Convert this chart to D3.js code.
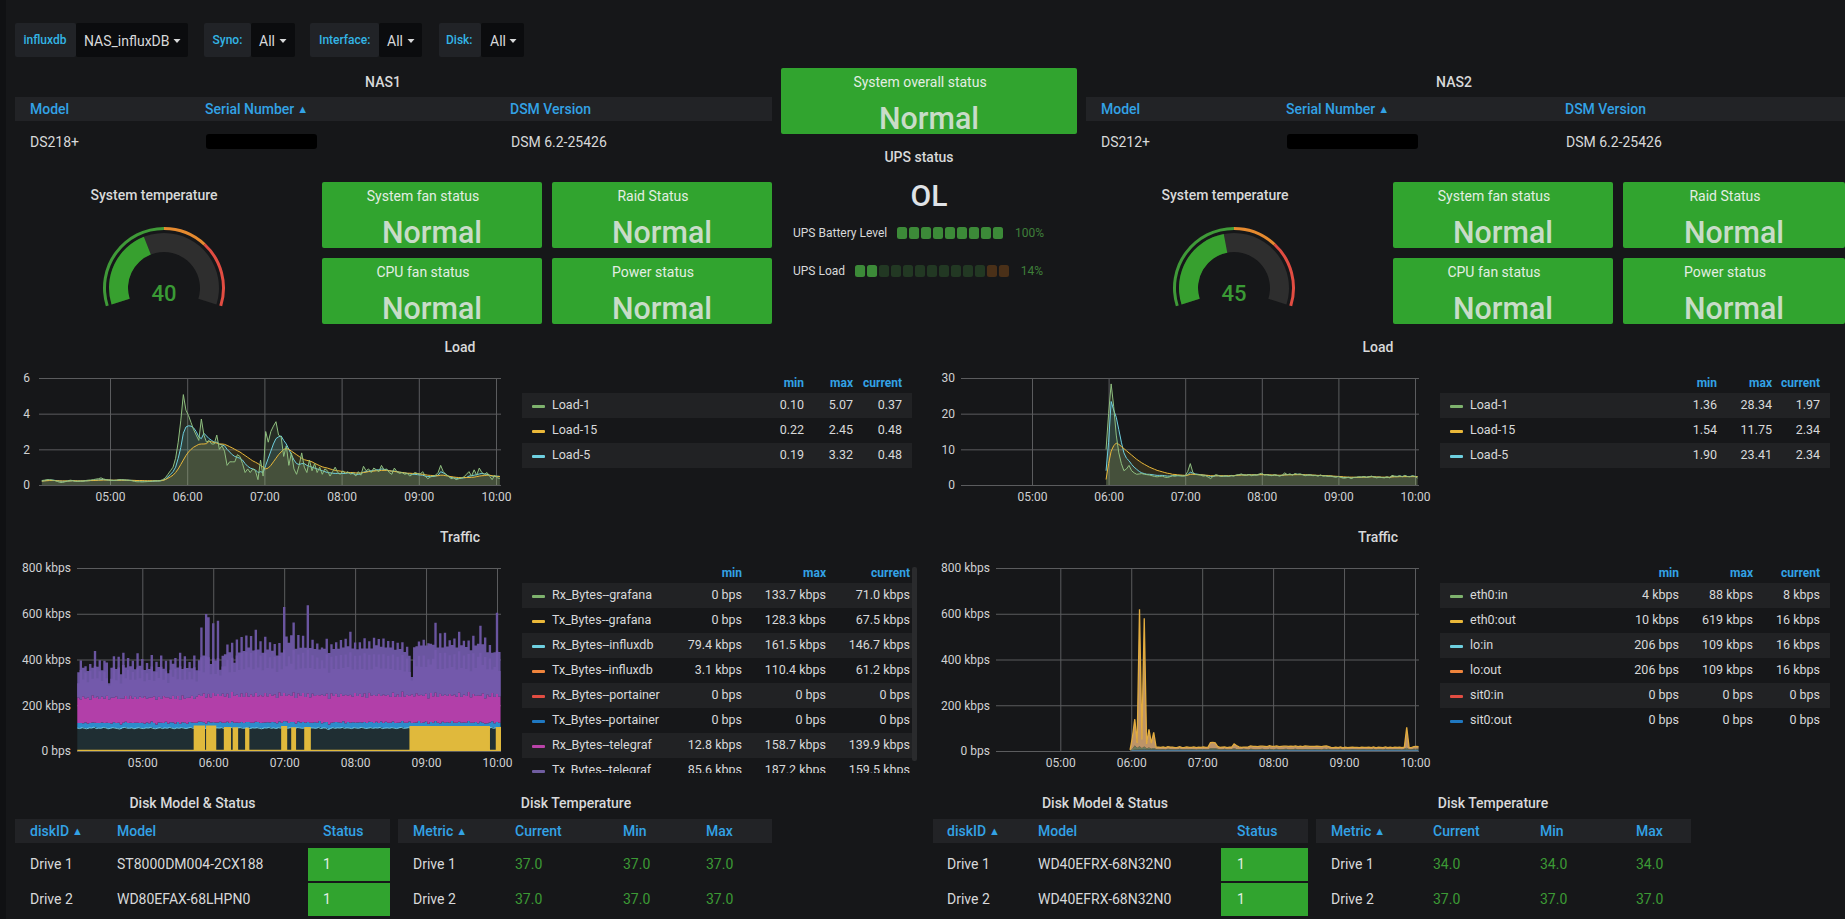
<!DOCTYPE html>
<html><head><meta charset="utf-8">
<script src="https://cdnjs.cloudflare.com/ajax/libs/d3/7.8.5/d3.min.js"></script>
<style>
html,body{margin:0;padding:0;background:#161719;overflow:hidden}
svg{display:block;font-family:Roboto,sans-serif}
.axis .domain{display:none}
.axis line{stroke:#5b5c5e;stroke-width:1}
.axis text{fill:#d0d1d3;font-size:12px;font-family:Roboto,sans-serif}
</style></head><body>
<svg id="c" width="1845" height="919"></svg>
<script>
// ---------- variables & tables ----------
const varNames=["influxdb","Syno:","Interface:","Disk:"];
const varValues=["NAS_influxDB","All","All","All"];
const statHeaders=["Model","Serial Number","DSM Version"];
const nas1Info=["DS218+","DSM 6.2-25426"];
const nas2Info=["DS212+","DSM 6.2-25426"];
const statusTitles=["System fan status","Raid Status","CPU fan status","Power status"];
const statusValue="Normal";
const tempNas=[40,45];
const gaugeLimits=[0,50,70,100];
const gaugeColors=["#37872d","#e58a2f","#e24d42"];
const upsBatteryLit=9, upsBatteryCells=9, upsBatteryPct="100%";
const upsLoadLit=2, upsLoadCells=13, upsLoadWarnCells=2, upsLoadPct="14%";

const diskHeaders=["diskID","Model","Status"];
const tempHeaders=["Metric","Current","Min","Max"];
const drives=["Drive 1","Drive 2"];
const nas1Models=["ST8000DM004-2CX188","WD80EFAX-68LHPN0"];
const nas2Models=["WD40EFRX-68N32N0","WD40EFRX-68N32N0"];
const driveStatus=["1","1"];
const nas1Temps=[["37.0","37.0","37.0"],["37.0","37.0","37.0"]];
const nas2Temps=[["34.0","34.0","34.0"],["37.0","37.0","37.0"]];

// ---------- legends ----------
const loadNames=["Load-1","Load-15","Load-5"];
const loadColors=["#7eb26d","#eab839","#6ed0e0"];
const load1Stats=[["0.10","5.07","0.37"],["0.22","2.45","0.48"],["0.19","3.32","0.48"]];
const load2Stats=[["1.36","28.34","1.97"],["1.54","11.75","2.34"],["1.90","23.41","2.34"]];
const traf1Names=["Rx_Bytes--grafana","Tx_Bytes--grafana","Rx_Bytes--influxdb","Tx_Bytes--influxdb","Rx_Bytes--portainer","Tx_Bytes--portainer","Rx_Bytes--telegraf","Tx_Bytes--telegraf"];
const traf1Colors=["#7eb26d","#eab839","#6ed0e0","#ef843c","#e24d42","#1f78c1","#ba43a9","#705da0"];
const traf1Stats=[["0 bps","133.7 kbps","71.0 kbps"],["0 bps","128.3 kbps","67.5 kbps"],["79.4 kbps","161.5 kbps","146.7 kbps"],["3.1 kbps","110.4 kbps","61.2 kbps"],["0 bps","0 bps","0 bps"],["0 bps","0 bps","0 bps"],["12.8 kbps","158.7 kbps","139.9 kbps"],["85.6 kbps","187.2 kbps","159.5 kbps"]];
const traf2Names=["eth0:in","eth0:out","lo:in","lo:out","sit0:in","sit0:out"];
const traf2Colors=["#7eb26d","#eab839","#6ed0e0","#ef843c","#e24d42","#1f78c1"];
const traf2Stats=[["4 kbps","88 kbps","8 kbps"],["10 kbps","619 kbps","16 kbps"],["206 bps","109 kbps","16 kbps"],["206 bps","109 kbps","16 kbps"],["0 bps","0 bps","0 bps"],["0 bps","0 bps","0 bps"]];
const legendHeaders=["min","max","current"];

// ---------- NAS1 load (2-minute samples from 04:07) ----------
const load1A=[.25,.27,.3,.3,.28,.25,.2,.15,.14,.18,.22,.27,.25,.2,.2,.22,.22,.25,.27,.28,.3,.33,.35,.4,.34,.3,
.28,.26,.25,.27,.3,.3,.28,.27,.26,.24,.2,.18,.18,.17,.18,.19,.2,.22,.24,.24,.25,
.3,.4,.6,.8,1.0,1.5,2.4,3.6,
5.07,4.2,3.9,3.5,3.1,2.8,2.5,3.7,2.8,2.4,
2.5,2.3,2.3,2.8,2.0,2.2,1.9,1.1,1.3,1.3,
1.3,1.7,1.6,1.2,.7,.9,.7,.9,.8,.3,
1.4,.5,3.0,2.4,3.0,3.3,3.55,2.8,2.7,1.6,
2.2,1.1,1.8,.9,.6,1.1,1.8,1.0,.7,1.4,
.8,1.2,.7,1.0,.6,.9,.8,.5,.75,1.0,
.7,.6,.8,.65,.75,.6,.7,.5,.75,.55,
1.05,.8,.9,.7,.95,.85,.75,1.1,.85,.9,
.7,.6,.95,.75,.65,.7,.6,.65,.5,.6,
.7,.65,.6,.75,.5,.35,.45,.5,.55,.7,
1.1,.75,.6,.5,.35,.4,.3,.35,.4,.45,
.6,.75,.5,.85,.55,.95,.7,.6,.7,.5,
.3,.55,.4,.37];
const load5A=[.22,.24,.26,.27,.27,.26,.24,.22,.21,.21,.22,.23,.24,.23,.22,.22,.22,.23,.24,.25,.26,.27,.28,.3,.3,.29,
.28,.27,.26,.26,.27,.28,.28,.27,.27,.26,.25,.24,.23,.22,.22,.21,.21,.21,.22,.22,.23,
.26,.32,.45,.6,.75,1.0,1.5,2.1,
2.9,3.25,3.32,3.3,3.2,3.0,2.7,2.6,2.9,2.75,
2.6,2.5,2.4,2.4,2.3,2.25,2.2,2.0,1.85,1.7,
1.6,1.55,1.5,1.4,1.2,1.05,.95,.9,.85,.7,
.75,.7,1.1,1.5,1.9,2.3,2.6,2.7,2.75,2.5,
2.3,2.0,1.7,1.4,1.2,1.15,1.2,1.2,1.1,1.05,
1.0,.95,.9,.85,.8,.75,.7,.68,.66,.65,
.65,.65,.65,.65,.68,.66,.63,.6,.6,.62,
.72,.75,.78,.8,.82,.85,.85,.9,.88,.85,
.8,.78,.78,.75,.72,.7,.68,.65,.62,.6,
.6,.58,.56,.55,.5,.47,.47,.48,.5,.55,
.75,.68,.6,.5,.42,.4,.38,.36,.38,.4,
.42,.5,.52,.55,.58,.62,.65,.62,.6,.55,
.5,.48,.5,.48];
const load15A=[.22,.23,.24,.25,.25,.25,.24,.23,.23,.23,.23,.23,.24,.24,.23,.23,.23,.24,.24,.25,.25,.26,.27,.27,.28,.28,
.28,.27,.27,.27,.27,.27,.27,.27,.26,.26,.26,.25,.25,.25,.24,.24,.24,.24,.24,.24,.24,
.26,.3,.38,.46,.55,.7,.9,1.15,
1.4,1.65,1.85,2.0,2.12,2.2,2.28,2.3,2.3,2.32,
2.45,2.42,2.38,2.35,2.3,2.3,2.28,2.22,2.15,2.08,
2.0,1.92,1.85,1.75,1.65,1.55,1.45,1.35,1.28,1.2,
1.1,1.0,.9,.95,1.1,1.3,1.5,1.7,1.85,2.0,
2.05,2.0,1.9,1.8,1.7,1.6,1.5,1.42,1.38,1.35,
1.3,1.22,1.15,1.08,1.02,.98,.95,.9,.86,.82,
.8,.78,.75,.72,.7,.7,.7,.68,.67,.68,
.7,.72,.75,.76,.78,.8,.8,.82,.82,.82,
.8,.78,.76,.74,.72,.7,.68,.66,.66,.65,
.65,.64,.62,.6,.58,.55,.54,.53,.52,.52,
.55,.55,.52,.5,.47,.45,.43,.42,.41,.42,
.42,.42,.43,.44,.47,.5,.52,.53,.55,.55,
.52,.5,.48,.48];

// ---------- NAS2 load (2-minute samples from 05:58) ----------
const load1B=[10,20,28.34,22,14,9,6,4,4.5,5.5,
4,3.4,3.0,3.1,3.2,3.0,2.9,2.8,2.6,2.4,
2.3,2.4,2.5,2.2,2.1,2.3,2.6,2.5,2.7,2.6,
2.5,2.6,3.8,6.0,3.5,3.0,2.9,2.8,2.5,2.6,
2.2,1.8,2.5,2.9,2.7,2.4,2.5,2.6,2.4,2.7,
2.5,2.8,2.9,3.1,2.8,2.7,3.0,2.6,2.9,2.8,
3.1,3.3,2.8,2.9,2.7,2.6,2.9,2.7,2.5,2.8,
3.4,2.9,3.1,2.8,3.2,3.0,3.1,2.9,2.6,2.8,
2.9,2.6,2.7,2.5,2.8,2.5,2.6,2.4,2.5,2.3,
2.2,2.4,2.1,1.9,2.0,2.2,1.8,2.1,2.2,2.3,
2.2,2.4,2.1,2.3,2.5,2.2,2.0,2.2,2.1,2.0,
2.3,2.0,2.7,2.5,2.4,2.6,2.3,2.7,2.4,2.3,
2.6,2.4,1.97];
const load5B=[4,12,23.41,21,19,15.5,12,9,7.5,6.8,
5.8,5,4.4,3.8,3.4,3.2,3,3,2.9,2.8,
2.7,2.7,2.7,2.6,2.5,2.5,2.6,2.6,2.6,2.6,
2.6,2.6,2.9,3.6,3.3,3.1,3,2.9,2.8,2.7,
2.6,2.4,2.4,2.6,2.6,2.5,2.5,2.5,2.5,2.6,
2.6,2.7,2.8,2.9,2.8,2.8,2.9,2.8,2.8,2.8,
2.9,3,2.9,2.9,2.8,2.7,2.8,2.7,2.6,2.7,
2.9,2.9,3,2.9,3,3,3,2.9,2.8,2.8,
2.8,2.7,2.7,2.6,2.7,2.6,2.6,2.5,2.5,2.4,
2.3,2.4,2.3,2.1,2.1,2.1,2,2.1,2.1,2.2,
2.2,2.3,2.2,2.3,2.4,2.3,2.2,2.2,2.1,2.1,
2.2,2.1,2.4,2.4,2.4,2.5,2.4,2.5,2.4,2.4,
2.5,2.4,2.34];
const load15B=[1.54,6,9.5,11,11.75,11.4,10.8,10.2,9.6,9,
8.4,7.8,7.2,6.7,6.2,5.8,5.4,5,4.7,4.4,
4.1,3.9,3.7,3.5,3.3,3.2,3,2.95,2.85,2.8,
2.75,2.7,2.75,3,3,2.95,2.9,2.85,2.8,2.75,
2.7,2.6,2.6,2.6,2.6,2.6,2.6,2.6,2.6,2.6,
2.65,2.7,2.75,2.8,2.8,2.8,2.85,2.85,2.85,2.85,
2.9,2.9,2.9,2.9,2.85,2.8,2.8,2.75,2.75,2.75,
2.8,2.85,2.85,2.85,2.9,2.9,2.9,2.9,2.85,2.85,
2.8,2.8,2.75,2.7,2.7,2.65,2.6,2.6,2.55,2.5,
2.45,2.4,2.35,2.3,2.25,2.2,2.2,2.2,2.15,2.15,
2.2,2.2,2.2,2.25,2.3,2.3,2.25,2.25,2.2,2.2,
2.2,2.2,2.25,2.3,2.3,2.35,2.35,2.35,2.35,2.35,
2.35,2.35,2.34];

// ---------- NAS1 traffic, kbps, stacked (2-minute samples from 04:05) ----------
const rxInfluxA=[100,98,102,99,97,101,100,104,98,100,99,103,101,97,99,102,100,98,96,101,
103,100,99,101,97,100,102,99,98,101,100,103,99,97,100,102,98,101,99,103,
100,97,101,99,102,100,98,101,103,99,100,101,104,100,98,102,100,103,99,101,
100,102,98,101,99,103,100,97,101,102,99,100,103,98,101,100,102,99,97,101,
100,103,99,101,98,102,100,104,101,99,102,100,98,103,101,99,100,102,97,101,
100,99,103,98,101,100,94,98,102,99,101,100,103,99,101,100,98,102,100,99,
103,101,98,100,102,99,101,100,103,98,100,101,99,102,100,98,101,103,99,100,
102,100,98,101,103,99,100,102,97,101,100,103,99,98,101,102,100,99,103,100,
98,101,102,99,100,103,98,101,100,99,102,100,92,98,100,103,99,101,100,104];
const txInfluxA=[22,24,19,26,23,21,25,20,24,22,26,19,23,25,21,24,22,26,20,23,
25,22,24,21,26,23,20,25,22,24,21,26,23,19,25,22,24,27,21,23,
25,22,26,20,24,23,21,26,22,25,23,28,24,26,22,27,25,23,26,24,
28,22,25,27,23,26,24,28,22,25,23,27,24,26,22,28,25,23,27,24,
26,22,28,25,23,27,24,26,29,23,25,27,22,26,24,28,23,25,27,22,
26,24,28,23,25,27,22,26,24,28,25,23,27,22,26,24,28,23,25,27,
22,26,24,28,25,23,27,22,26,24,28,23,25,27,22,26,24,28,25,23,
27,22,26,24,28,23,25,27,22,26,24,28,25,23,27,22,26,24,28,23,
25,27,22,26,24,28,25,23,27,22,26,24,28,23,25,27,22,26,24,30];
const rxTelegrafA=[112,104,118,106,115,103,119,108,116,105,113,107,118,104,114,108,117,103,115,106,
112,105,118,107,114,104,116,108,119,105,113,106,117,109,112,104,118,107,115,103,
116,108,113,105,118,106,114,107,117,104,115,118,112,126,114,121,110,128,116,124,
112,127,115,123,110,129,117,122,113,126,115,128,111,124,116,127,112,123,115,129,
113,125,116,122,112,128,117,124,111,126,114,130,112,123,116,127,113,125,111,128,
115,122,113,126,116,124,112,128,115,123,111,127,113,125,116,122,112,129,115,124,
113,126,111,127,116,123,114,128,112,125,115,122,113,127,116,124,111,129,114,123,
112,126,115,128,113,124,116,122,112,127,115,125,113,129,114,123,116,126,112,124,
115,128,113,122,116,127,112,125,114,123,115,128,111,126,113,124,116,122,114,127];
const txTelegrafA=[110,170,125,140,115,155,120,205,130,170,115,165,145,70,130,180,120,185,105,200,
125,180,130,165,120,200,135,170,115,155,125,185,110,165,130,190,120,160,105,170,
140,180,125,205,115,185,130,155,120,190,115,150,300,165,365,335,145,305,155,320,115,
165,185,215,200,215,145,240,195,245,200,
250,215,255,200,275,205,235,190,245,205,
225,195,220,185,215,190,375,260,225,265,
305,215,255,210,250,215,385,215,235,205,
225,200,205,205,240,200,215,205,225,210,
235,210,245,215,275,210,220,205,225,210,
240,215,225,205,250,220,240,215,245,210,
235,215,225,205,225,210,215,195,210,175,75,
215,205,235,215,245,210,240,215,225,
305,215,265,210,270,215,235,220,245,215,
265,225,235,215,225,205,255,220,225,305,
215,265,185,225,175,195,355,195,390];
// troughs of the comb inside the purple band
const txTelegrafLowA=[62,128,74,112,66,126,72,140,80,122,68,118,76,60,82,132,70,138,64,146,
78,128,70,116,74,138,80,124,66,110,76,134,68,120,82,140,72,114,62,126,
84,132,74,146,68,136,80,112,72,138,66,104,170,92,180,160,100,150,96,158,90,
118,132,148,112,150,104,170,118,176,120,
178,128,180,118,186,126,172,114,176,124,
160,118,164,112,158,116,190,130,166,140,
186,124,170,120,176,126,192,128,168,118,
164,116,150,120,172,114,160,118,166,122,
170,120,176,124,186,118,162,116,168,120,
174,122,166,114,178,126,172,120,176,118,
170,122,166,116,164,118,160,110,158,104,60,
160,118,172,122,176,116,170,124,164,
186,122,178,116,182,120,170,124,176,118,
180,126,170,118,166,114,178,122,168,186,
124,180,110,166,102,130,190,112,200];
// yellow blocks of Tx_Bytes--grafana
const txGrafanaStarts=["05:44:30","05:55:00","06:10:00","06:17:30","06:28:00","06:58:30","07:07:00","07:18:00","08:47:00","10:00:00"];
const txGrafanaEnds=["05:52:00","06:01:30","06:14:00","06:20:00","06:29:30","07:01:30","07:09:00","07:21:30","09:53:00","10:03:30"];
const txGrafanaKbps=[106,106,100,98,96,104,98,100,104,100];

// ---------- NAS2 traffic, kbps, stacked (2-minute samples from 05:59) ----------
const loInB=[1,4,6,5,7,6,8,6,7,6,7,6,5,6,6,5,7,6,6,5,
6,7,5,6,6,5,7,6,5,6,6,7,5,6,7,6,7,6,5,6,
7,5,6,6,7,5,6,6,7,6,5,7,6,6,5,6,7,6,5,7,
6,6,7,5,6,6,7,6,5,6,7,6,6,5,7,6,6,5,7,6,
6,5,7,6,7,6,5,6,6,7,5,6,6,5,7,6,5,6,6,7,
5,6,6,7,5,6,6,5,7,6,6,5,7,6,6,5,7,6,5,6,
7,6,7];
const eth0InB=[1,6,18,8,14,6,12,5,8,4,6,3,3,2,3,2,3,3,2,3,
2,3,3,2,3,3,2,3,2,3,3,2,3,2,5,6,5,4,3,2,
3,3,2,3,5,4,3,2,3,3,2,3,3,2,3,3,3,2,3,3,
2,3,3,3,2,3,3,2,3,3,3,2,3,3,2,3,3,3,2,3,
3,2,3,3,3,2,3,3,2,3,2,3,2,3,2,3,3,2,3,2,
3,3,2,3,2,3,3,2,3,2,3,3,2,3,3,2,3,8,3,2,
3,4,3];
const eth0OutB=[3,50,115,22,599,38,560,20,80,24,68,9,9,8,9,8,9,8,9,7,
8,9,7,8,9,8,7,9,8,8,7,9,8,9,25,26,24,10,8,9,
8,7,9,8,19,15,9,8,7,8,11,12,11,12,11,12,11,12,11,13,
12,11,12,11,12,12,11,12,13,11,12,11,12,11,13,12,11,12,11,12,
11,12,11,13,9,8,7,8,7,8,7,8,7,8,8,7,8,7,8,7,
8,8,7,8,7,8,7,8,8,7,8,7,8,7,8,8,7,90,8,7,
9,10,9];

// ---------- axis labels ----------
const hourTicks=["05:00","06:00","07:00","08:00","09:00","10:00"];
const loadTicksA=[0,2,4,6], loadTicksB=[0,10,20,30], trafficTicks=[0,200,400,600,800];

// ---------- styling ----------
const BLUE="#33a2e5", TXT="#d8d9da", GREEN="#31a42f", HEAD="#222326", STRIPE="#212224", BG="#161719";
const svg=d3.select("#c");
svg.append("rect").attr("width",1845).attr("height",919).attr("fill",BG);
svg.append("rect").attr("width",6).attr("height",919).attr("fill","#101113");
const defs=svg.append("defs");
const T=(g,x,y,s,o={})=>g.append("text").attr("x",x).attr("y",y).attr("dy",".35em").text(s)
  .attr("fill",o.fill||TXT).attr("font-size",o.size||14).attr("font-weight",o.weight||400).attr("text-anchor",o.anchor||"start");
const R=(g,x,y,w,h,f,r=0)=>g.append("rect").attr("x",x).attr("y",y).attr("width",w).attr("height",h).attr("fill",f).attr("rx",r);
const root=svg.append("g");

// ---------- template variables ----------
const varBoxes=[[15,76,188,23.5,84,177],[204,251,295,212.5,259,283],[310,379,422,319,387,411],[439,481,524,446,490,513]];
varNames.forEach((n,i)=>{const b=varBoxes[i];
  R(root,b[0],23,b[1]-b[0],34,"#212327",2); R(root,b[1],23,b[2]-b[1],34,"#0b0c0e",2);
  T(root,b[3],40,n,{fill:"#33b5e5",size:12,weight:500});
  T(root,b[4],41,varValues[i],{size:14});
  root.append("path").attr("d",`M${b[5]-3.5},39 h7 l-3.5,4 z`).attr("fill",TXT);
});

// ---------- info tables ----------
function sorted(g,x,y,s,size=14){const t=T(g,x,y,s,{fill:BLUE,size,weight:500});t.append("tspan").attr("font-size",11).attr("dx",3).attr("dy","-1").text("▲");return t;}
function infoTable(title,tx,x0,x1,cols,info,redact){
  T(root,tx,82,title,{anchor:"middle",weight:500});
  R(root,x0,97,x1-x0,24,HEAD);
  T(root,cols[0],109,statHeaders[0],{fill:BLUE,weight:500});
  sorted(root,cols[1],109,statHeaders[1]);
  T(root,cols[2],109,statHeaders[2],{fill:BLUE,weight:500});
  T(root,cols[0],142,info[0]); T(root,cols[2]+1,142,info[1]);
  root.append("rect").attr("x",redact[0]).attr("y",134).attr("width",redact[1]-redact[0]).attr("height",15).attr("fill","#000").attr("rx",3);
}
infoTable("NAS1",383,15,772,[30,205,510],nas1Info,[206,317]);
infoTable("NAS2",1454,1086,1845,[1101,1286,1565],nas2Info,[1287,1418]);

// ---------- status panels ----------
function stat(x,y,w,h,title,tY,vY){
  R(root,x,y,w,h,GREEN,2);
  T(root,x+w/2-9,tY,title,{anchor:"middle",fill:"#e3eee3"});
  T(root,x+w/2,vY,statusValue,{anchor:"middle",size:32,fill:"#c8dcc8",weight:500})
    .attr("textLength",100).attr("lengthAdjust","spacingAndGlyphs");
}
stat(781,68,296,66,"System overall status",82,118);
[[322,552,220],[1393,1623,222]].forEach(([a,b,w])=>{
  stat(a,182,220,66,statusTitles[0],196,232);
  stat(b,182,w,66,statusTitles[1],196,232);
  stat(a,258,220,66,statusTitles[2],272,308);
  stat(b,258,w,66,statusTitles[3],272,308);
});

// ---------- gauges ----------
const gScale=d3.scaleLinear().domain([0,100]).range([-107.5*Math.PI/180,107.5*Math.PI/180]);
function gauge(cx,value,titleX){
  T(root,titleX,195,"System temperature",{anchor:"middle",weight:500});
  const g=root.append("g").attr("transform",`translate(${cx},288)`);
  const arc=d3.arc();
  g.append("path").attr("d",arc({innerRadius:36,outerRadius:55,startAngle:gScale(0),endAngle:gScale(100)})).attr("fill","#2e2e2e");
  g.append("path").attr("d",arc({innerRadius:36,outerRadius:55,startAngle:gScale(0),endAngle:gScale(value)})).attr("fill","#37a02f");
  gaugeColors.forEach((c,i)=>g.append("path").attr("d",arc({innerRadius:58,outerRadius:61,startAngle:gScale(gaugeLimits[i]),endAngle:gScale(gaugeLimits[i+1])})).attr("fill",i==0?"#3f9a38":c));
  T(g,0,5,value,{anchor:"middle",size:22,fill:"#3a9a35",weight:500});
}
gauge(164,tempNas[0],154); gauge(1234,tempNas[1],1225);

// ---------- UPS ----------
T(root,919,157,"UPS status",{anchor:"middle",weight:500});
T(root,929,195,"OL",{anchor:"middle",size:30,fill:"#dfe2e6",weight:500});
function bar(y,label,x0,x1,n,lit,warn,pct,pctX){
  T(root,793,y,label,{size:12});
  const b=d3.scaleBand().domain(d3.range(n)).range([x0,x1]).paddingInner(.16);
  root.selectAll(null).data(d3.range(n)).enter().append("rect")
    .attr("x",d=>b(d)).attr("y",y-6).attr("width",b.bandwidth()).attr("height",12).attr("rx",2.5)
    .attr("fill",d=>d<lit?"#3c8a38":d>=n-warn?"#4a3018":"#223823");
  T(root,pctX,y,pct,{size:12,fill:"#3f7f3a",anchor:"end"});
}
bar(233,"UPS Battery Level",897,1003,upsBatteryCells,upsBatteryLit,0,upsBatteryPct,1044);
bar(271,"UPS Load",855,1009,upsLoadCells,upsLoadLit,upsLoadWarnCells,upsLoadPct,1043);

// ---------- graphs ----------
const clock=s=>{const p=s.split(":").map(Number);return new Date(Date.UTC(2020,0,1,p[0],p[1],p[2]||0));};
const series=(startS,vals)=>vals.map((v,i)=>({t:new Date(clock(startS).getTime()+i*120000),v}));
let clipId=0;
function frame(px0,px1,py0,py1,tickX0,tickX1,domainY,yTicks,yFmt,title,titleX,titleY,labelGap){
  const x=d3.scaleUtc().domain([clock(hourTicks[0]),clock(hourTicks[5])]).range([tickX0,tickX1]);
  const y=d3.scaleLinear().domain(domainY).range([py1,py0]);
  T(root,titleX,titleY,title,{anchor:"middle",weight:500});
  const g=root.append("g");
  g.append("g").attr("class","axis").attr("transform",`translate(${px0},0)`)
    .call(d3.axisLeft(y).tickValues(yTicks).tickFormat(yFmt).tickSize(-(px1-px0)).tickPadding(labelGap));
  g.append("g").attr("class","axis").attr("transform",`translate(0,${py1})`)
    .call(d3.axisBottom(x).tickValues(hourTicks.map(clock)).tickFormat(d3.utcFormat("%H:%M")).tickSize(-(py1-py0)).tickPadding(7));
  const id="clip"+(clipId++);
  defs.append("clipPath").attr("id",id).append("rect").attr("x",px0).attr("y",py0-2).attr("width",px1-px0).attr("height",py1-py0+2);
  const plot=g.append("g").attr("clip-path",`url(#${id})`);
  return {x,y,plot};
}
function loadPlot(f,sets){
  const area=d3.area().x(d=>f.x(d.t)).y0(f.y(0)).y1(d=>f.y(d.v));
  const line=d3.line().x(d=>f.x(d.t)).y(d=>f.y(d.v));
  sets.forEach(s=>f.plot.append("path").attr("d",area(s.d)).attr("fill",s.c).attr("fill-opacity",.13));
  sets.forEach(s=>f.plot.append("path").attr("d",line(s.d)).attr("fill","none").attr("stroke",s.c).attr("stroke-width",1));
}
const fL1=frame(39,501,378,485,110,496,[0,6],loadTicksA,d3.format("d"),"Load",460,347,9);
loadPlot(fL1,[{d:series("04:07",load5A),c:"#6ed0e0"},{d:series("04:07",load15A),c:"#eab839"},{d:series("04:07",load1A),c:"#8fbf7f"}]);
const fL2=frame(961,1419,378,485,1032,1415,[0,30],loadTicksB,d3.format("d"),"Load",1378,347,6);
loadPlot(fL2,[{d:series("05:58",load5B),c:"#6ed0e0"},{d:series("05:58",load15B),c:"#eab839"},{d:series("05:58",load1B),c:"#8fbf7f"}]);

const kb=d=>d===0?"0 bps":d+" kbps";
const fT1=frame(77,501,568,751,142.3,497,[0,800],trafficTicks,kb,"Traffic",460,537,6);
(function(){
  const {x,y,plot}=fT1;
  const t0=clock("04:05");
  const tAt=i=>new Date(t0.getTime()+i*120000);
  const rows=rxInfluxA.map((v,i)=>({t:tAt(i),a:v,b:txInfluxA[i],c:rxTelegrafA[i],d:txTelegrafA[i],low:txTelegrafLowA[i]}));
  const st=d3.stack().keys(["a","b","c","d"])(rows);
  const fills=["#1f2e33","#2d8bcb","#b23fa9","#6a55a0"];
  const area=d3.area().curve(d3.curveStepAfter).x(d=>x(d.data.t)).y0(d=>y(d[0])).y1(d=>y(d[1]));
  st.forEach((s,i)=>plot.append("path").attr("d",area(s)).attr("fill",fills[i]));
  // comb stripes inside the purple band
  plot.append("path").attr("d",area(st[3].map(d=>{const r=[d[0],d[0]+d.data.low];r.data=d.data;return r;}))).attr("fill","#7359ab");
  plot.append("path").attr("d",d3.line().x(d=>x(d.data.t)).y(d=>y(d[1]))(st[0])).attr("fill","none").attr("stroke","#7fd8e4").attr("stroke-width",.8);
  // Tx grafana blocks, over the base
  const pts=[];txGrafanaStarts.forEach((s,i)=>{
    pts.push({t:clock(s),v:0},{t:clock(s),v:txGrafanaKbps[i]},{t:clock(txGrafanaEnds[i]),v:txGrafanaKbps[i]},{t:clock(txGrafanaEnds[i]),v:0});});
  const all=[{t:clock("04:05"),v:0},...pts,{t:clock("10:04"),v:0}];
  plot.append("path").attr("d",d3.area().x(d=>x(d.t)).y0(y(0)).y1(d=>y(d.v))(all)).attr("fill","#e0b93c");
  plot.append("path").attr("d",d3.line().x(d=>x(d.t)).y(d=>y(d.v))(all)).attr("fill","none").attr("stroke","#e0b93c").attr("stroke-width",2.5);
})();
const fT2=frame(996,1419,568,751,1060.3,1415,[0,800],trafficTicks,kb,"Traffic",1378,537,6);
(function(){
  const {x,y,plot}=fT2;
  const t0=clock("05:59");
  const rows=loInB.map((v,i)=>({t:new Date(t0.getTime()+i*120000),a:v,b:eth0InB[i],c:eth0OutB[i]}));
  const st=d3.stack().keys(["a","b","c"])(rows);
  const fills=["#4d7a9a","#6b7a5a","#bd9468"];
  const area=d3.area().x(d=>x(d.data.t)).y0(d=>y(d[0])).y1(d=>y(d[1]));
  st.forEach((s,i)=>plot.append("path").attr("d",area(s)).attr("fill",fills[i]));
  plot.append("path").attr("d",d3.line().x(d=>x(d.data.t)).y(d=>y(d[1]))(st[2])).attr("fill","none").attr("stroke","#e3ac3e").attr("stroke-width",1.3);
})();

// ---------- legends ----------
function legend(x0,x1,top,hy,swX,labX,rights,names,colors,stats,clipB){
  const g=root.append("g");
  if(clipB){const id="clip"+(clipId++);defs.append("clipPath").attr("id",id).append("rect").attr("x",x0).attr("y",top-30).attr("width",x1-x0).attr("height",clipB-top+30);g.attr("clip-path",`url(#${id})`);}
  legendHeaders.forEach((h,i)=>T(g,rights[i],hy,h,{anchor:"end",fill:BLUE,size:12,weight:700}));
  names.forEach((n,i)=>{
    const y=top+25*i;
    if(i%2==0)R(g,x0,y,x1-x0,25,STRIPE);
    R(g,swX,y+12,13,3,colors[i],1);
    T(g,labX,y+12,n,{size:12.5});
    stats[i].forEach((s,j)=>T(g,rights[j],y+12,s,{size:12.5,anchor:"end"}));
  });
}
legend(522,912,393,383,532,552,[804,853,902],loadNames,loadColors,load1Stats);
legend(1440,1830,393,383,1450,1470,[1717,1772,1820],loadNames,loadColors,load2Stats);
legend(522,912,583,573,532,552,[742,826,910],traf1Names,traf1Colors,traf1Stats,773);
R(root,912,567,5,194,"#2a2b2d",2);
legend(1440,1830,583,573,1450,1470,[1679,1753,1820],traf2Names,traf2Colors,traf2Stats);

// ---------- disk tables ----------
function diskTables(t1x,t1,cols1,cell,t2x,t2,cols2,models,temps){
  T(root,t1x,803,"Disk Model & Status",{anchor:"middle",weight:500});
  T(root,t2x,803,"Disk Temperature",{anchor:"middle",weight:500});
  R(root,t1[0],819,t1[1]-t1[0],24,HEAD); R(root,t2[0],819,t2[1]-t2[0],24,HEAD);
  sorted(root,cols1[0],831,diskHeaders[0]);
  T(root,cols1[1],831,diskHeaders[1],{fill:BLUE,weight:500});
  T(root,cols1[2],831,diskHeaders[2],{fill:BLUE,weight:500});
  sorted(root,cols2[0],831,tempHeaders[0]);
  [1,2,3].forEach(i=>T(root,cols2[i],831,tempHeaders[i],{fill:BLUE,weight:500}));
  const rowY=[[848,33,864],[883,33,899]];
  drives.forEach((d,i)=>{
    const r=rowY[i];
    T(root,cols1[0],r[2],d); T(root,cols1[1],r[2],models[i]);
    R(root,cell[0],r[0],cell[1]-cell[0],r[1],GREEN);
    T(root,cols1[2],r[2],driveStatus[i],{fill:"#e3eee3"});
    T(root,cols2[0],r[2],d);
    temps[i].forEach((v,j)=>T(root,cols2[j+1],r[2],v,{fill:"#3c9a35"}));
  });
}
diskTables(192.5,[15,390],[30,117,323],[308,390],576,[398,772],[413,515,623,706],nas1Models,nas1Temps);
diskTables(1105,[933,1308],[947,1038,1237],[1221,1308],1493,[1316,1691],[1331,1433,1540,1636],nas2Models,nas2Temps);
</script>
</body></html>
